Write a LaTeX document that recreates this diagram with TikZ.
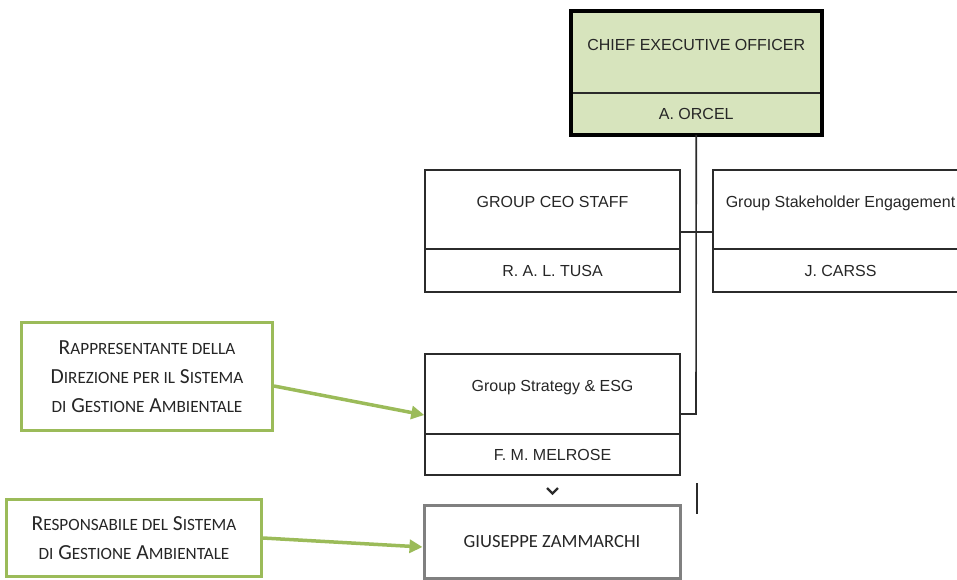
\documentclass[tikz,border=0pt]{standalone}
\usepackage{fontspec}
\setmainfont{Liberation Sans}
\newfontfamily\calfont{Carlito}
\usetikzlibrary{arrows.meta,calc}
\definecolor{ceofill}{HTML}{D7E4BD}
\definecolor{callgreen}{HTML}{9BBB59}
\definecolor{linec}{HTML}{2B2B2B}
\definecolor{txtc}{HTML}{262626}
\definecolor{grayb}{HTML}{808080}
\newcommand\SCw[2]{#1{\fontsize{17.2}{14}\selectfont #2}}
\begin{document}
\begin{tikzpicture}[x=1pt,y=-1pt,
  orgbox/.style={draw=linec, line width=1.5pt, minimum width=255pt, minimum height=#1, inner sep=0pt},
  lbl/.style={font=\fontsize{16}{19}\selectfont, text=txtc, text height=11.5pt, text depth=0pt, inner sep=0pt},
  callout/.style={draw=callgreen, line width=3pt, fill=white, inner sep=0pt, align=center,
     font=\calfont\fontsize{21.5}{29}\selectfont, text=txtc},
  greenarrow/.style={draw=callgreen, line width=3.5pt, -{Triangle[length=13pt,width=13pt]}},
  conn/.style={draw=linec, line width=1.6pt}
]
\useasboundingbox (0,0) rectangle (957,579);
\clip (0,0) rectangle (957,579);

% CEO
\node[orgbox=81pt, minimum width=249.5pt, fill=ceofill,
  label={[lbl, yshift=7.5pt]center:CHIEF EXECUTIVE OFFICER}] (ceoT) at (696.25,52.5) {};
\node[orgbox=41pt, minimum width=249.5pt, fill=ceofill, label={[lbl]center:A. ORCEL}] (ceoB) at (696.25,113.5) {};
\draw[line width=4pt, black] (ceoT.north west) rectangle (ceoB.south east);

% Group CEO staff
\node[orgbox=79pt, label={[lbl, yshift=7.5pt]center:GROUP CEO STAFF}] (staffT) at (552.5,209.5) {};
\node[orgbox=43pt, label={[lbl]center:R. A. L. TUSA}] (staffB) at (552.5,270.5) {};

% Stakeholder
\node[orgbox=79pt, label={[lbl, yshift=7.5pt]center:Group Stakeholder Engagement}] (stakeT) at (840.5,209.5) {};
\node[orgbox=43pt, label={[lbl]center:J. CARSS}] (stakeB) at (840.5,270.5) {};

% Strategy
\node[orgbox=80pt, label={[lbl, yshift=8pt]center:Group Strategy \& ESG}] (strT) at (552.5,394) {};
\node[orgbox=41pt, label={[lbl]center:F. M. MELROSE}] (strB) at (552.5,454.5) {};

% Giuseppe
\node[draw=grayb, line width=3pt, minimum width=256pt, minimum height=73pt, inner sep=0pt,
  font=\calfont\fontsize{18.6}{20}\selectfont, text=txtc] (gui) at (552,541.5) {GIUSEPPE ZAMMARCHI};

% connectors
\coordinate (j2) at (696,232);
\coordinate (j3) at (696,414);
\draw[conn] (ceoB.south) -- (j3) -- (j3 -| strT.east);
\draw[conn] (j2 -| staffT.east) -- (j2 -| stakeT.west);

% chevron and small line
\draw[line width=2.2pt, linec] (547,488) -- (552.5,493.5) -- (558,488);
\draw[conn] (697,483) -- (697,514);

% callouts
\node[callout, minimum width=251pt, minimum height=108pt] (call1) at (147,376.5)
  {\SCw{R}{APPRESENTANTE DELLA}\\ \SCw{D}{IREZIONE PER IL} \SCw{S}{ISTEMA}\\ {\fontsize{17.2}{14}\selectfont DI} \SCw{G}{ESTIONE} \SCw{A}{MBIENTALE}};
\node[callout, minimum width=255pt, minimum height=77pt] (call2) at (134,538)
  {\SCw{R}{ESPONSABILE DEL} \SCw{S}{ISTEMA}\\ {\fontsize{17.2}{14}\selectfont DI} \SCw{G}{ESTIONE} \SCw{A}{MBIENTALE}};

\draw[greenarrow] ([yshift=-9.5pt]call1.east) -- ($(strT.west)+(0,21)$);
\draw[greenarrow] (call2.east) -- ($(gui.west)+(0,5.5)$);
\end{tikzpicture}
\end{document}
